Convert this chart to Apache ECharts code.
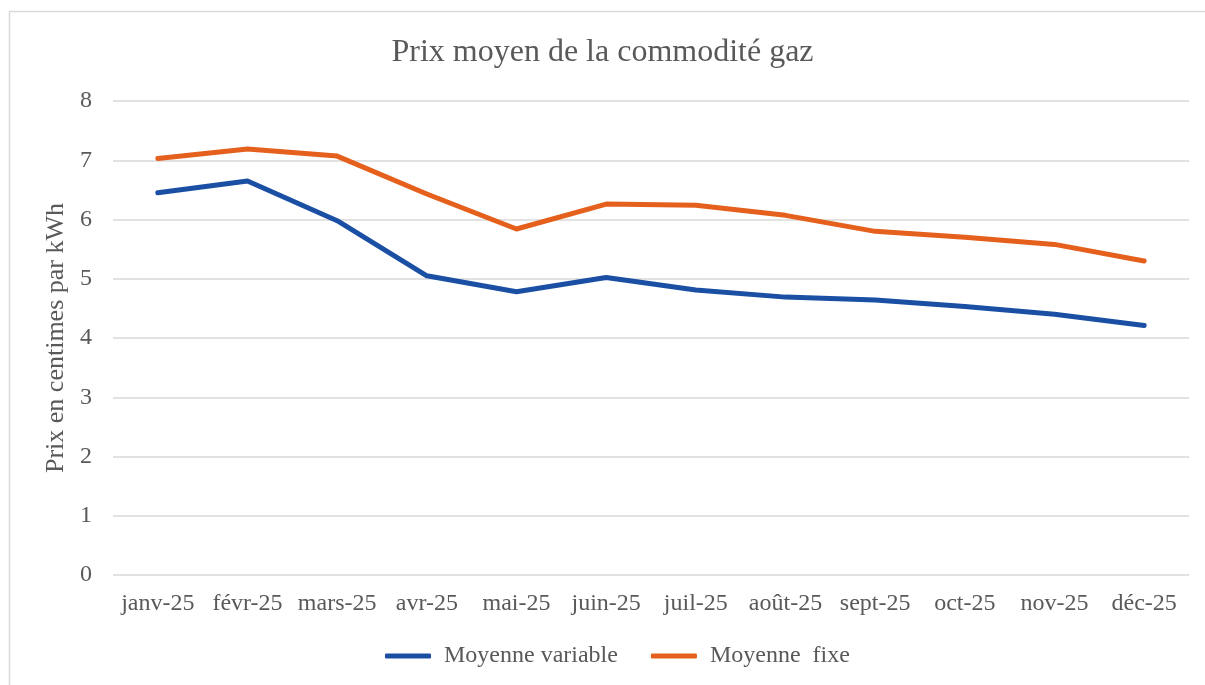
<!DOCTYPE html>
<html lang="fr">
<head>
<meta charset="UTF-8">
<title>Prix moyen de la commodité gaz</title>
<style>
  html, body { margin: 0; padding: 0; background: #fff; }
  #chart { width: 1205px; height: 685px; }
</style>
</head>
<body>
<div id="chart"></div>
<script src="https://cdn.jsdelivr.net/npm/echarts@6/dist/echarts.min.js"></script>
<script>
// données
const mois = ['janv-25', 'févr-25', 'mars-25', 'avr-25', 'mai-25', 'juin-25',
  'juil-25', 'août-25', 'sept-25', 'oct-25', 'nov-25', 'déc-25'];
const moyenneVariable = [6.45, 6.65, 5.98, 5.05, 4.78, 5.02, 4.81, 4.69, 4.64, 4.53, 4.40, 4.21];
const moyenneFixe = [7.03, 7.19, 7.07, 6.43, 5.84, 6.26, 6.24, 6.07, 5.80, 5.70, 5.58, 5.30];
const yTicks = { min: 0, max: 8, interval: 1 };

const font = '"Liberation Serif", "Times New Roman", serif';
const grey = '#595959';

const chart = echarts.init(document.getElementById('chart'));
chart.setOption({
  backgroundColor: '#fff',
  animation: false,
  textStyle: { fontFamily: font, color: grey },
  graphic: [{
    // cadre de la zone du graphique
    type: 'rect',
    shape: { x: 9.5, y: 11.5, width: 1205, height: 690 },
    style: { fill: 'none', stroke: '#d9d9d9', lineWidth: 1.5 },
    silent: true
  }],
  title: {
    text: 'Prix moyen de la commodité gaz',
    left: 'center',
    top: 32,
    textStyle: { fontFamily: font, fontWeight: 'normal', fontSize: 32, color: grey }
  },
  legend: {
    bottom: 12,
    left: 380,
    itemWidth: 46,
    itemHeight: 5,
    itemGap: 33,
    icon: 'roundRect',
    textStyle: { fontFamily: font, fontSize: 24, color: grey, padding: [0, 0, 0, 8] },
    data: ['Moyenne variable', 'Moyenne  fixe']
  },
  grid: { left: 113, right: 16, top: 101, bottom: 110, containLabel: false },
  xAxis: {
    type: 'category',
    data: mois,
    boundaryGap: true,
    axisLine: { show: false },
    axisTick: { show: false },
    axisLabel: { fontFamily: font, fontSize: 24, color: grey, margin: 17, interval: 0 }
  },
  yAxis: {
    type: 'value',
    min: yTicks.min,
    max: yTicks.max,
    interval: yTicks.interval,
    name: 'Prix en centimes par kWh',
    nameLocation: 'middle',
    nameGap: 42,
    nameTextStyle: { fontFamily: font, fontSize: 26, color: grey },
    axisLine: { show: false },
    axisTick: { show: false },
    axisLabel: { fontFamily: font, fontSize: 24, color: grey, margin: 21 },
    splitLine: { lineStyle: { color: '#d9d9d9', width: 1.5 } }
  },
  series: [{
    name: 'Moyenne variable',
    type: 'line',
    data: moyenneVariable,
    symbol: 'none',
    lineStyle: { color: '#1a4fa3', width: 5, cap: 'round', join: 'round' },
    itemStyle: { color: '#1a4fa3' }
  }, {
    name: 'Moyenne  fixe',
    type: 'line',
    data: moyenneFixe,
    symbol: 'none',
    lineStyle: { color: '#e5601d', width: 5, cap: 'round', join: 'round' },
    itemStyle: { color: '#e5601d' }
  }]
});
</script>
</body>
</html>
